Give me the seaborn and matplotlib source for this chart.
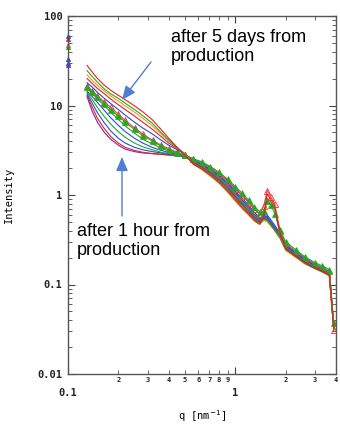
import numpy as np
import pandas as pd
import matplotlib
matplotlib.use('Agg')
import matplotlib.pyplot as plt
from matplotlib.ticker import LogLocator, FuncFormatter, NullFormatter
import seaborn as sns

# scattering vector q [nm^-1], shared by all curves
q = [0.13, 0.14, 0.15, 0.165, 0.18, 0.2, 0.22, 0.25, 0.28, 0.32, 0.36, 0.4, 0.45, 0.5,
     0.56, 0.63, 0.71, 0.8, 0.9, 1.0, 1.1, 1.2, 1.3, 1.4,
     1.48, 1.55, 1.63, 1.72, 1.85,
     2.0, 2.3, 2.6, 3.0, 3.3, 3.65, 3.88]

# curves ordered from "1 hour" (s0) to "5 days" (s12)
s0 = [12.5, 8.5, 6.5, 5.0, 4.2, 3.6, 3.25, 3.05, 2.95, 2.9, 2.85, 2.8, 2.8, 2.7,
      2.45, 2.22, 1.95, 1.66, 1.37, 1.11, 0.92, 0.77, 0.64, 0.56,
      0.58, 0.57, 0.5, 0.43, 0.35,
      0.27, 0.22, 0.185, 0.16, 0.148, 0.132, 0.033]
s1 = [13, 9.5, 7.2, 5.5, 4.5, 3.8, 3.4, 3.15, 3.0, 2.9, 2.85, 2.8, 2.75, 2.65,
      2.35, 2.1, 1.82, 1.54, 1.26, 1.01, 0.83, 0.7, 0.58, 0.52,
      0.56, 0.92, 0.84, 0.7, 0.36,
      0.26, 0.215, 0.18, 0.155, 0.143, 0.128, 0.032]
s2 = [13.5, 10.5, 8.3, 6.4, 5.2, 4.3, 3.8, 3.4, 3.2, 3.05, 2.95, 2.85, 2.75, 2.65,
      2.5, 2.3, 2.02, 1.74, 1.45, 1.19, 1.0, 0.84, 0.7, 0.61,
      0.62, 0.6, 0.53, 0.46, 0.37,
      0.28, 0.23, 0.195, 0.168, 0.155, 0.14, 0.035]
s3 = [14, 11.5, 9.5, 7.5, 6.2, 5.1, 4.4, 3.8, 3.45, 3.2, 3.0, 2.9, 2.8, 2.7,
      2.4, 2.15, 1.87, 1.58, 1.3, 1.05, 0.86, 0.72, 0.6, 0.53,
      0.57, 0.56, 0.49, 0.43, 0.35,
      0.265, 0.22, 0.185, 0.16, 0.147, 0.133, 0.034]
s4 = [14.5, 12.5, 10.8, 8.8, 7.3, 6.0, 5.1, 4.3, 3.8, 3.4, 3.15, 3.0, 2.85, 2.7,
      2.42, 2.18, 1.9, 1.62, 1.33, 1.07, 0.88, 0.74, 0.61, 0.54,
      0.59, 0.58, 0.5, 0.44, 0.36,
      0.27, 0.225, 0.19, 0.163, 0.15, 0.136, 0.034]
s5 = [15.5, 13.5, 11.8, 10, 8.4, 7.0, 5.9, 4.9, 4.2, 3.7, 3.35, 3.1, 2.9, 2.75,
      2.33, 2.07, 1.79, 1.51, 1.23, 0.98, 0.81, 0.68, 0.57, 0.51,
      0.55, 0.54, 0.48, 0.42, 0.34,
      0.255, 0.21, 0.18, 0.155, 0.143, 0.13, 0.033]
s6 = [16.5, 14.5, 12.8, 11, 9.5, 8.0, 6.8, 5.6, 4.8, 4.1, 3.6, 3.3, 3.0, 2.8,
      2.5, 2.28, 2.0, 1.72, 1.43, 1.17, 0.98, 0.82, 0.69, 0.62,
      0.75, 1.12, 0.95, 0.8, 0.4,
      0.29, 0.235, 0.2, 0.17, 0.155, 0.14, 0.031]
s7 = [16, 14, 12.3, 10.5, 9.0, 7.6, 6.5, 5.4, 4.6, 4.0, 3.5, 3.2, 2.95, 2.8,
      2.55, 2.35, 2.08, 1.8, 1.5, 1.24, 1.05, 0.88, 0.74, 0.65,
      0.66, 0.85, 0.78, 0.62, 0.41,
      0.3, 0.245, 0.205, 0.175, 0.162, 0.146, 0.037]
s8 = [18, 16, 14, 12, 10.5, 9.0, 7.8, 6.5, 5.6, 4.8, 4.1, 3.6, 3.2, 2.85,
      2.3, 2.04, 1.76, 1.48, 1.2, 0.96, 0.79, 0.66, 0.56, 0.5,
      0.56, 0.55, 0.48, 0.42, 0.34,
      0.255, 0.21, 0.178, 0.154, 0.142, 0.128, 0.032]
s9 = [20, 17.5, 15.5, 13.5, 11.8, 10.2, 9.0, 7.6, 6.5, 5.4, 4.5, 3.8, 3.3, 2.9,
      2.27, 2.0, 1.72, 1.44, 1.16, 0.93, 0.76, 0.64, 0.54, 0.49,
      0.54, 0.53, 0.47, 0.41, 0.34,
      0.25, 0.205, 0.175, 0.152, 0.14, 0.127, 0.032]
s10 = [22, 19, 16.8, 14.5, 12.8, 11.2, 9.9, 8.4, 7.2, 5.9, 4.8, 4.0, 3.35, 2.9,
       2.2, 1.92, 1.62, 1.35, 1.07, 0.85, 0.7, 0.6, 0.51, 0.47,
       0.52, 0.5, 0.45, 0.4, 0.33,
       0.24, 0.2, 0.17, 0.15, 0.138, 0.125, 0.031]
s11 = [24.5, 21, 18.2, 15.3, 13.5, 12.0, 10.6, 9.0, 7.7, 6.3, 5.0, 4.1, 3.35, 2.85,
       2.25, 1.98, 1.69, 1.41, 1.13, 0.9, 0.74, 0.62, 0.53, 0.48,
       0.53, 0.52, 0.46, 0.4, 0.33,
       0.245, 0.205, 0.172, 0.15, 0.139, 0.126, 0.032]
s12 = [28, 23.5, 20, 16.8, 14.8, 13.0, 11.6, 9.9, 8.5, 6.9, 5.4, 4.3, 3.4, 2.8,
       2.22, 1.95, 1.66, 1.38, 1.1, 0.88, 0.72, 0.61, 0.52, 0.47,
       0.6, 1.02, 0.9, 0.75, 0.38,
       0.25, 0.205, 0.175, 0.152, 0.14, 0.127, 0.031]

series = [s0, s1, s2, s3, s4, s5, s6, s7, s8, s9, s10, s11, s12]
names = ['s%d' % i for i in range(len(series))]

RED, GREEN, BLUE, PURPLE, ORANGE = '#e82020', '#22aa22', '#2050e0', '#7a22a8', '#f09a20'
colors = [PURPLE, RED, BLUE, GREEN, BLUE, GREEN, '#ee4444', GREEN, BLUE, RED, ORANGE, GREEN, RED]

# first points at q = 0.1 (not joined to the curves)
edge_q = [0.1, 0.1, 0.1, 0.1, 0.1, 0.1, 0.1]
edge_val = [30, 55, 28, 60, 47, 45, 33]
edge_series = [0, 1, 2, 4, 6, 7, 8]

df = pd.DataFrame({
    'q': np.tile(q, len(series)),
    'I': np.concatenate(series),
    'curve': np.repeat(names, len(q)),
})

fig = plt.figure(figsize=(3.4, 4.24), dpi=100)
ax = fig.add_axes([68 / 340, 50 / 424, 268 / 340, 358 / 424])

for i, name in enumerate(names):
    d = df[df['curve'] == name]
    kw = dict(lw=0.8)
    if i == 6:
        kw.update(marker='^', markersize=4.5, markerfacecolor='none',
                  markeredgecolor='#ee4444', markeredgewidth=0.7)
    elif i == 7:
        kw.update(marker='^', markersize=4.5, markerfacecolor=GREEN,
                  markeredgecolor=GREEN, markeredgewidth=0.5)
    sns.lineplot(data=d, x='q', y='I', color=colors[i], ax=ax, sort=False,
                 estimator=None, legend=False, **kw)

for qq, v, k in zip(edge_q, edge_val, edge_series):
    ax.plot(qq, v, marker='^', markersize=3,
            color=colors[k], markerfacecolor='none' if k == 6 else colors[k],
            markeredgewidth=0.6, clip_on=False, lw=0)

ax.set_xscale('log')
ax.set_yscale('log')
ax.set_xlim(0.1, 4)
ax.set_ylim(0.01, 100)

mono = 'DejaVu Sans Mono'
ax.xaxis.set_major_locator(LogLocator(base=10, numticks=10))
ax.xaxis.set_minor_locator(LogLocator(base=10, subs=np.arange(2, 10), numticks=20))
ax.xaxis.set_major_formatter(FuncFormatter(lambda v, p: '%g' % v))
ax.xaxis.set_minor_formatter(FuncFormatter(
    lambda v, p: '%d' % round(v / 10 ** np.floor(np.log10(v) + 1e-9))))
ax.yaxis.set_major_locator(LogLocator(base=10, numticks=10))
ax.yaxis.set_minor_locator(LogLocator(base=10, subs=np.arange(2, 10), numticks=20))
ax.yaxis.set_major_formatter(FuncFormatter(lambda v, p: '%g' % v))
ax.yaxis.set_minor_formatter(NullFormatter())

ax.tick_params(which='both', direction='in', top=True, right=True, colors='#444444')
ax.tick_params(which='major', length=5, width=0.8)
ax.tick_params(which='minor', length=3, width=0.6)
ax.tick_params(axis='x', which='major', labelsize=7.5, pad=10)
ax.tick_params(axis='x', which='minor', labelsize=5, pad=2)
ax.tick_params(axis='y', which='major', labelsize=7.5, pad=4)
for lab in ax.get_xticklabels(which='both') + ax.get_yticklabels():
    lab.set_fontfamily(mono)
    lab.set_color('#222222')
    lab.set_fontweight('bold')

for sp in ax.spines.values():
    sp.set_color('#555555')
    sp.set_linewidth(1.0)

ax.set_xlabel('q [nm$^{-1}$]', fontfamily=mono, fontsize=7.5)
ax.set_ylabel('Intensity', fontfamily=mono, fontsize=7.5)
ax.xaxis.set_label_coords(0.5, -0.095)
ax.yaxis.set_label_coords(-0.2, 0.5)

sans = ['Liberation Sans', 'DejaVu Sans']
fig.text(171 / 340, 1 - 29 / 424, 'after 5 days from\nproduction', family=sans,
         fontsize=13, va='top', ha='left', linespacing=1.15)
fig.text(77 / 340, 1 - 223 / 424, 'after 1 hour from\nproduction', family=sans,
         fontsize=13, va='top', ha='left', linespacing=1.15)

arrow = dict(arrowstyle='-|>,head_length=0.7,head_width=0.3', color='#4f7fd4',
             lw=1.0, mutation_scale=12, shrinkA=0, shrinkB=0)
ax.annotate('', xy=(122, 424 - 100), xycoords='figure pixels',
            xytext=(151, 424 - 62), textcoords='figure pixels', arrowprops=arrow)
ax.annotate('', xy=(122, 424 - 157), xycoords='figure pixels',
            xytext=(122, 424 - 216), textcoords='figure pixels', arrowprops=arrow)

fig.savefig('out.png', dpi=100)
